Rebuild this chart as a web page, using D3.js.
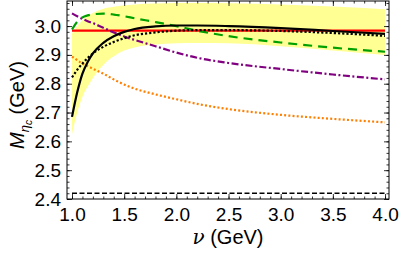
<!DOCTYPE html>
<html>
<head>
<meta charset="utf-8">
<script src="https://cdn.jsdelivr.net/npm/d3@7"></script>
<style>
  body { margin: 0; background: #fff; }
  text { font-family: "Liberation Sans", Arial, sans-serif; fill: #000; }
</style>
</head>
<body>
<div id="chart"></div>
<script>
"use strict";

// nu grid (GeV) shared by all curves
const nu = [1.0, 1.05, 1.1, 1.15, 1.2, 1.3, 1.4, 1.5, 1.6, 1.8, 2.0, 2.2, 2.5, 3.0, 3.5, 4.0];

const solidBlack  = [2.685, 2.77, 2.835, 2.875, 2.905, 2.942, 2.965, 2.98, 2.99, 2.999, 3.002, 3.002, 3.0, 2.993, 2.983, 2.973];
const dottedBlack = [2.822, 2.848, 2.87, 2.889, 2.905, 2.928, 2.945, 2.958, 2.968, 2.978, 2.984, 2.986, 2.986, 2.983, 2.976, 2.966];
const greenDashed = [2.988, 3.015, 3.03, 3.037, 3.041, 3.043, 3.04, 3.034, 3.027, 3.014, 3.0, 2.984, 2.965, 2.943, 2.925, 2.911];
const purpleDashDot = [3.044, 3.034, 3.025, 3.017, 3.01, 2.994, 2.978, 2.964, 2.952, 2.93, 2.908, 2.89, 2.872, 2.851, 2.832, 2.815];
const orangeDotted = [2.894, 2.882, 2.87, 2.861, 2.852, 2.835, 2.815, 2.797, 2.783, 2.763, 2.746, 2.73, 2.712, 2.692, 2.678, 2.666];
const bandUpper = [2.975, 3.0, 3.02, 3.034, 3.045, 3.06, 3.067, 3.072, 3.075, 3.078, 3.08, 3.08, 3.079, 3.075, 3.068, 3.058];
const bandLower = [2.625, 2.70, 2.755, 2.79, 2.82, 2.865, 2.895, 2.915, 2.926, 2.936, 2.94, 2.941, 2.94, 2.93, 2.915, 2.9];
const expMass = 2.984;   // red line
const lowMass = 2.42;    // black dashed line

const xTicks = [1.0, 1.5, 2.0, 2.5, 3.0, 3.5, 4.0];
const yTicks = [2.4, 2.5, 2.6, 2.7, 2.8, 2.9, 3.0];

const msm = { width: 399, height: 259, left: 67, right: 389, top: 1, bottom: 199 };

let svg = d3.select("#chart").append("svg")
    .attr("width", msm.width)
    .attr("height", msm.height);

let xScale = d3.scaleLinear().domain([0.952, 4.038]).range([msm.left, msm.right]);
let yScale = d3.scaleLinear().domain([2.4, 3.087]).range([msm.bottom, msm.top]);

let plot = svg.append("g");

// error band
let area = d3.area()
    .x((d, i) => xScale(nu[i]))
    .y0((d, i) => yScale(bandLower[i]))
    .y1((d, i) => yScale(bandUpper[i]))
    .curve(d3.curveMonotoneX);
plot.append("path").attr("d", area(nu)).attr("fill", "#ffff94");

function drawCurve(vals, color, dash, w) {
    let line = d3.line()
        .x((d, i) => xScale(nu[i]))
        .y(d => yScale(d))
        .curve(d3.curveMonotoneX);
    plot.append("path")
        .attr("d", line(vals))
        .attr("fill", "none")
        .attr("stroke", color)
        .attr("stroke-width", w)
        .attr("stroke-dasharray", dash);
}

drawCurve(nu.map(() => expMass), "#ff0000", null, 2.2);
drawCurve(orangeDotted, "#ff7f00", "2,2.2", 2.2);
drawCurve(purpleDashDot, "#800080", "7,2.5,2,2.5", 2.2);
drawCurve(greenDashed, "#00a000", "9,6", 2.2);
drawCurve(dottedBlack, "#000", "2.2,2", 2.2);
drawCurve(solidBlack, "#000", null, 2.2);
drawCurve(nu.map(() => lowMass), "#000", "5,2.5", 1.6);

// frame
svg.append("rect")
    .attr("x", msm.left).attr("y", msm.top)
    .attr("width", msm.right - msm.left).attr("height", msm.bottom - msm.top)
    .attr("fill", "none").attr("stroke", "#000").attr("stroke-width", 1);

// minor ticks
let xMinor = d3.range(10, 41).map(d => d / 10);
let yMinor = d3.range(120, 155).map(d => d / 50);

function ticks(axis, pos, size, vals) {
    svg.append("g")
        .attr("transform", pos)
        .call(axis.tickValues(vals).tickSize(size).tickFormat(""))
        .call(g => g.select(".domain").remove())
        .selectAll("line").attr("stroke", "#000").attr("stroke-width", 0.8);
}

ticks(d3.axisBottom(xScale), "translate(0," + msm.bottom + ")", -2.5, xMinor);
ticks(d3.axisTop(xScale), "translate(0," + msm.top + ")", -2.5, xMinor);
ticks(d3.axisLeft(yScale), "translate(" + msm.left + ",0)", -2.5, yMinor);
ticks(d3.axisRight(yScale), "translate(" + msm.right + ",0)", -2.5, yMinor);
ticks(d3.axisTop(xScale), "translate(0," + msm.top + ")", -5, xTicks);
ticks(d3.axisRight(yScale), "translate(" + msm.right + ",0)", -5, yTicks);

// labelled axes
svg.append("g")
    .attr("transform", "translate(0," + msm.bottom + ")")
    .call(d3.axisBottom(xScale).tickValues(xTicks).tickSize(-5).tickPadding(9).tickFormat(d3.format(".1f")))
    .call(g => g.select(".domain").remove())
    .call(g => g.selectAll("line").attr("stroke", "#000").attr("stroke-width", 0.8))
    .call(g => g.selectAll("text").style("font-size", "19px").attr("font-family", null));

svg.append("g")
    .attr("transform", "translate(" + msm.left + ",0)")
    .call(d3.axisLeft(yScale).tickValues(yTicks).tickSize(-5).tickPadding(6).tickFormat(d3.format(".1f")))
    .call(g => g.select(".domain").remove())
    .call(g => g.selectAll("line").attr("stroke", "#000").attr("stroke-width", 0.8))
    .call(g => g.selectAll("text").style("font-size", "19px").attr("font-family", null));

// axis titles
let xt = svg.append("text")
    .attr("x", (msm.left + msm.right) / 2)
    .attr("y", 244)
    .attr("text-anchor", "middle")
    .style("font-size", "20px");
xt.append("tspan").style("font-style", "italic").style("font-family", "DejaVu Serif").text("ν");
xt.append("tspan").text(" (GeV)");

let yt = svg.append("text")
    .attr("transform", "translate(24,105) rotate(-90)")
    .attr("text-anchor", "middle")
    .style("font-size", "20px");
yt.append("tspan").style("font-style", "italic").text("M");
yt.append("tspan").style("font-style", "italic").style("font-size", "13px").attr("dy", 5).text("η");
yt.append("tspan").style("font-style", "italic").style("font-size", "10px").attr("dy", 3).text("c");
yt.append("tspan").attr("dy", -8).text(" (GeV)");
</script>
</body>
</html>
